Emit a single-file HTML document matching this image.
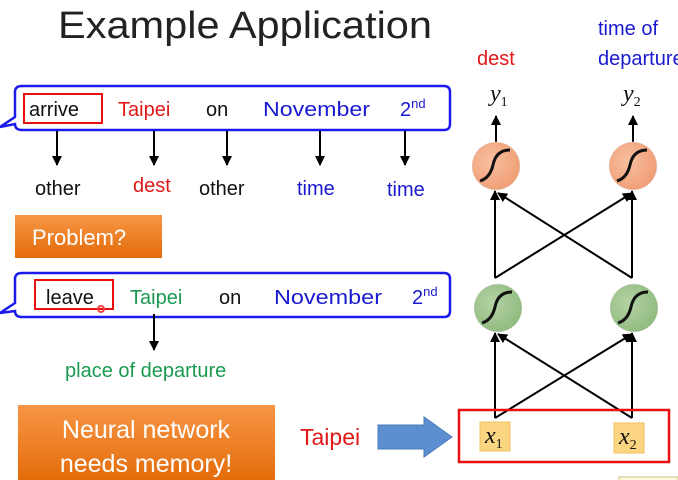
<!DOCTYPE html>
<html><head><meta charset="utf-8"><style>
html,body{margin:0;padding:0;background:#fff;width:678px;height:480px;overflow:hidden}
text{font-family:"Liberation Sans",sans-serif}
.m{font-family:"Liberation Serif",serif;font-style:italic}
</style></head><body>
<svg width="678" height="480" xmlns="http://www.w3.org/2000/svg">
<defs>
<marker id="ah" markerWidth="10" markerHeight="10" refX="9" refY="5" orient="auto" markerUnits="userSpaceOnUse"><path d="M0,0 L10,5 L0,10 z" fill="#000"/></marker>
<linearGradient id="og" x1="0" y1="0" x2="0" y2="1"><stop offset="0" stop-color="#f79646"/><stop offset="1" stop-color="#e46c0a"/></linearGradient>
<radialGradient id="oc" cx="0.4" cy="0.4" r="0.7"><stop offset="0" stop-color="#f8c0a0"/><stop offset="1" stop-color="#ef9a70"/></radialGradient>
<radialGradient id="gc" cx="0.4" cy="0.4" r="0.7"><stop offset="0" stop-color="#b5d3a5"/><stop offset="1" stop-color="#8cb87a"/></radialGradient>
</defs>
<text x="58" y="38" font-size="38" font-weight="400" fill="#222" textLength="374" lengthAdjust="spacingAndGlyphs">Example Application</text>

<path d="M22,86 H444 Q450,86 450,92 V124 Q450,130 444,130 H22 Q15,130 15,124 L0,127 L15,117 V92 Q15,86 22,86 Z" fill="#fff" stroke="#1a1aef" stroke-width="2.5"/>
<rect x="24" y="94" width="78" height="29" fill="none" stroke="#e81010" stroke-width="2"/>
<g font-size="20">
<text x="29" y="116" fill="#111">arrive</text>
<text x="118" y="116" fill="#e01818">Taipei</text>
<text x="206" y="116" fill="#111">on</text>
<text x="263" y="116" fill="#1a1ad0" textLength="107" lengthAdjust="spacingAndGlyphs">November</text>
<text x="400" y="116" fill="#1a1ad0">2<tspan font-size="13" dy="-8">nd</tspan></text>
</g>
<g stroke="#000" stroke-width="2" marker-end="url(#ah)">
<line x1="57" y1="131" x2="57" y2="165"/>
<line x1="154" y1="131" x2="154" y2="165"/>
<line x1="227" y1="131" x2="227" y2="165"/>
<line x1="320" y1="131" x2="320" y2="165"/>
<line x1="405" y1="131" x2="405" y2="165"/>
</g>
<g font-size="20">
<text x="35" y="195" fill="#111">other</text>
<text x="133" y="192" fill="#e01818">dest</text>
<text x="199" y="195" fill="#111">other</text>
<text x="297" y="195" fill="#1a1ad0">time</text>
<text x="387" y="196" fill="#1a1ad0">time</text>
</g>
<rect x="15" y="215" width="147" height="43" fill="url(#og)"/>
<text x="32" y="245" font-size="22" fill="#fff">Problem?</text>

<path d="M22,273 H444 Q450,273 450,279 V311 Q450,317 444,317 H22 Q15,317 15,311 L0,313 L15,303 V279 Q15,273 22,273 Z" fill="#fff" stroke="#1a1aef" stroke-width="2.5"/>
<rect x="35" y="280" width="78" height="29" fill="none" stroke="#e81010" stroke-width="2"/>
<g font-size="20">
<text x="46" y="304" fill="#111">leave</text>
<text x="130" y="304" fill="#1a9a50">Taipei</text>
<text x="219" y="304" fill="#111">on</text>
<text x="274" y="304" fill="#1a1ad0" textLength="108" lengthAdjust="spacingAndGlyphs">November</text>
<text x="412" y="304" fill="#1a1ad0">2<tspan font-size="13" dy="-8">nd</tspan></text>
</g>
<circle cx="101" cy="309" r="3" fill="none" stroke="#f04040" stroke-width="2"/>
<line x1="154" y1="314" x2="154" y2="350" stroke="#000" stroke-width="2" marker-end="url(#ah)"/>
<text x="65" y="377" font-size="20" fill="#1a9a50">place of departure</text>

<rect x="18" y="405" width="257" height="75" fill="url(#og)"/>
<text x="146" y="438" font-size="25" fill="#fff" text-anchor="middle">Neural network</text>
<text x="146" y="472" font-size="25" fill="#fff" text-anchor="middle">needs memory!</text>

<text x="300" y="445" font-size="23" fill="#e01818">Taipei</text>
<path d="M378,425 H424 V417 L452,437 L424,457 V449 H378 Z" fill="#5b8fd0" stroke="#4a7ab8"/>

<text x="477" y="65" font-size="20" fill="#e01818">dest</text>
<text x="598" y="35" font-size="20" fill="#1a1ad0">time of</text>
<text x="598" y="65" font-size="20" fill="#1a1ad0">departure</text>
<text x="490" y="101" font-size="24" class="m" fill="#111">y<tspan font-size="14" style="font-style:normal" dy="5">1</tspan></text>
<text x="623" y="101" font-size="24" class="m" fill="#111">y<tspan font-size="14" style="font-style:normal" dy="5">2</tspan></text>

<g stroke="#000" stroke-width="2" marker-end="url(#ah)">
<line x1="496" y1="142" x2="496" y2="116"/>
<line x1="633" y1="142" x2="633" y2="116"/>
<line x1="495" y1="278" x2="495" y2="191"/>
<line x1="495" y1="278" x2="632" y2="193"/>
<line x1="632" y1="278" x2="632" y2="191"/>
<line x1="632" y1="278" x2="498" y2="193"/>
<line x1="495" y1="418" x2="495" y2="333"/>
<line x1="495" y1="418" x2="632" y2="334"/>
<line x1="632" y1="418" x2="632" y2="333"/>
<line x1="632" y1="418" x2="498" y2="334"/>
</g>
<g stroke="#ddd" stroke-width="0.5">
<circle cx="496" cy="166" r="24" fill="url(#oc)"/>
<circle cx="633" cy="166" r="24" fill="url(#oc)"/>
<circle cx="498" cy="308" r="24" fill="url(#gc)"/>
<circle cx="634" cy="308" r="24" fill="url(#gc)"/>
</g>
<g fill="none" stroke="#111" stroke-width="3">
<path d="M480,181 Q490,178 493,165 Q496,150 510,150"/>
<path d="M617,181 Q627,178 630,165 Q633,150 647,150"/>
<path d="M482,323 Q492,320 495,307 Q498,292 512,292"/>
<path d="M618,323 Q628,320 631,307 Q634,292 648,292"/>
</g>
<rect x="459" y="410" width="210" height="52" fill="none" stroke="#e81010" stroke-width="2.5"/>
<rect x="480" y="422" width="30" height="29" fill="#fbd581" stroke="#f0c060"/>
<rect x="614" y="423" width="30" height="30" fill="#fbd581" stroke="#f0c060"/>
<text x="485" y="443" font-size="24" class="m" fill="#111">x<tspan font-size="14" style="font-style:normal" dy="5">1</tspan></text>
<text x="619" y="444" font-size="24" class="m" fill="#111">x<tspan font-size="14" style="font-style:normal" dy="5">2</tspan></text>
<rect x="619" y="477" width="59" height="4" fill="#fffbe0" stroke="#c8c080"/>
</svg>
</body></html>
